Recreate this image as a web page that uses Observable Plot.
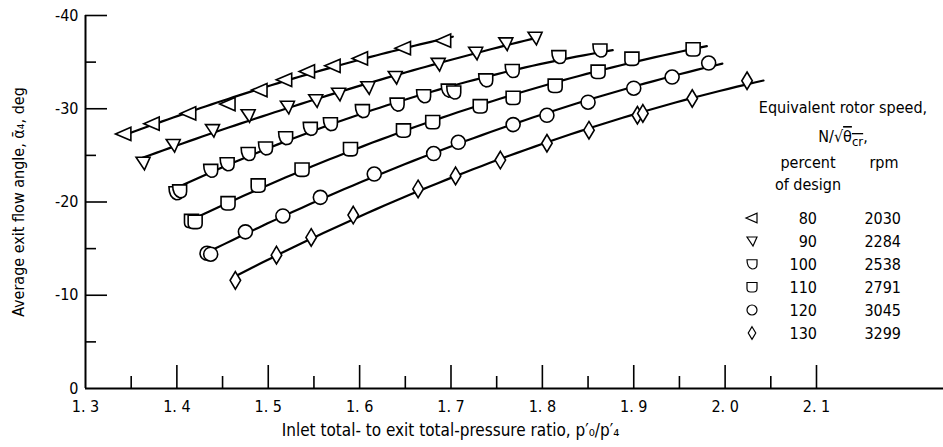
<!DOCTYPE html>
<html>
<head>
<meta charset="utf-8">
<script src="https://cdn.jsdelivr.net/npm/d3@7"></script>
<script src="https://cdn.jsdelivr.net/npm/@observablehq/plot@0.6"></script>
<style>
  body { margin: 0; background: #fff; }
  #chart { width: 943px; height: 447px; }
  svg { font-family: "Liberation Sans Narrow", "DejaVu Sans Condensed", sans-serif; }
</style>
</head>
<body>
<div id="chart"></div>
<script>
// Equivalent rotor speed, percent of design and rpm
const speedPercent = [80, 90, 100, 110, 120, 130];
const speedRpm = [2030, 2284, 2538, 2791, 3045, 3299];

// Inlet-to-exit total-pressure ratio and average exit flow angle (deg) per speed line
const ratio80 = [1.342, 1.373, 1.413, 1.456, 1.491, 1.518, 1.543, 1.571, 1.601, 1.648, 1.692];
const angle80 = [-27.3, -28.4, -29.5, -30.5, -32.0, -33.1, -34.0, -34.6, -35.4, -36.5, -37.3];

const ratio90 = [1.363, 1.396, 1.439, 1.478, 1.521, 1.552, 1.577, 1.609, 1.639, 1.686, 1.727, 1.760, 1.792];
const angle90 = [-24.2, -26.1, -27.7, -29.3, -30.2, -30.9, -31.6, -32.3, -33.4, -34.8, -36.0, -37.0, -37.6];

const ratio100 = [1.399, 1.403, 1.437, 1.455, 1.478, 1.497, 1.519, 1.546, 1.568, 1.603, 1.641, 1.670, 1.697, 1.703, 1.738, 1.767, 1.818, 1.863];
const angle100 = [-21.0, -21.2, -23.4, -24.1, -25.2, -25.8, -26.9, -27.9, -28.4, -29.8, -30.5, -31.4, -32.0, -31.8, -33.1, -34.1, -35.6, -36.3];

const ratio110 = [1.416, 1.420, 1.456, 1.489, 1.537, 1.590, 1.648, 1.680, 1.732, 1.768, 1.814, 1.861, 1.898, 1.965];
const angle110 = [-18.0, -17.9, -19.9, -21.8, -23.5, -25.7, -27.7, -28.6, -30.3, -31.2, -32.5, -34.0, -35.4, -36.4];

const ratio120 = [1.433, 1.437, 1.475, 1.516, 1.557, 1.616, 1.681, 1.708, 1.768, 1.805, 1.850, 1.900, 1.942, 1.982];
const angle120 = [-14.5, -14.4, -16.8, -18.5, -20.5, -23.0, -25.2, -26.4, -28.3, -29.3, -30.7, -32.2, -33.4, -34.9];

const ratio130 = [1.464, 1.509, 1.547, 1.593, 1.664, 1.705, 1.754, 1.805, 1.851, 1.904, 1.910, 1.964, 2.024];
const angle130 = [-11.6, -14.3, -16.2, -18.6, -21.4, -22.8, -24.5, -26.3, -27.7, -29.3, -29.5, -31.1, -33.0];

// Pressure ratio at which each faired curve ends
const curveEnd = [1.702, 1.795, 1.877, 1.980, 1.997, 2.042];

// Axis ticks
const xMajorTicks = [1.4, 1.5, 1.6, 1.7, 1.8, 1.9, 2.0, 2.1];
const xMinorTicks = [1.35, 1.45, 1.55, 1.65, 1.75, 1.85, 1.95, 2.05];
const xTickLabels = ["1. 3", "1. 4", "1. 5", "1. 6", "1. 7", "1. 8", "1. 9", "2. 0", "2. 1"];
const xLabelTicks = [1.3, 1.4, 1.5, 1.6, 1.7, 1.8, 1.9, 2.0, 2.1];
const yMajorTicks = [-40, -30, -20, -10];
const yMinorTicks = [-35, -25, -15, -5];
const yLabelTicks = [0, -10, -20, -30, -40];
const yTickLabels = ["0", "-10", "-20", "-30", "-40"];

const ratios = [ratio80, ratio90, ratio100, ratio110, ratio120, ratio130];
const angles = [angle80, angle90, angle100, angle110, angle120, angle130];

// Symbols for each speed line
function shape(drawFn) {
  return { draw(ctx, size) { drawFn(ctx, Math.sqrt(size / Math.PI)); } };
}
const symbols = [
  shape((c, r) => { c.moveTo(-1.2 * r, 0); c.lineTo(r, -0.95 * r); c.lineTo(r, 0.95 * r); c.closePath(); }),
  shape((c, r) => { c.moveTo(-r, -0.8 * r); c.lineTo(r, -0.8 * r); c.lineTo(0.2 * r, r); c.closePath(); }),
  shape((c, r) => {
    c.moveTo(-r, -0.85 * r); c.lineTo(r, -0.85 * r); c.lineTo(r, 0.1 * r);
    c.quadraticCurveTo(r, r, 0, r); c.quadraticCurveTo(-r, 0.7 * r, -r, -0.85 * r); c.closePath();
  }),
  shape((c, r) => {
    c.moveTo(-r, -0.9 * r); c.lineTo(r, -0.9 * r); c.lineTo(r, 0.3 * r);
    c.quadraticCurveTo(r, r, 0.3 * r, r); c.lineTo(-0.3 * r, r);
    c.quadraticCurveTo(-r, r, -r, 0.3 * r); c.closePath();
  }),
  shape((c, r) => { c.moveTo(r, 0); c.arc(0, 0, r, 0, 2 * Math.PI); c.closePath(); }),
  shape((c, r) => { c.moveTo(0, -1.25 * r); c.lineTo(0.75 * r, 0); c.lineTo(0, 1.25 * r); c.lineTo(-0.75 * r, 0); c.closePath(); })
];

// Least-squares quadratic fairing through each speed line
function quadFit(xs, ys) {
  const m = d3.mean(xs);
  const S = [0, 0, 0, 0, 0], T = [0, 0, 0];
  xs.forEach((x0, i) => {
    const x = x0 - m;
    for (let k = 0; k < 5; k++) S[k] += x ** k;
    for (let k = 0; k < 3; k++) T[k] += ys[i] * x ** k;
  });
  const A = [[S[0], S[1], S[2], T[0]], [S[1], S[2], S[3], T[1]], [S[2], S[3], S[4], T[2]]];
  for (let i = 0; i < 3; i++) {
    for (let j = i + 1; j < 3; j++) {
      const f = A[j][i] / A[i][i];
      for (let k = i; k < 4; k++) A[j][k] -= f * A[i][k];
    }
  }
  const c = [0, 0, 0];
  for (let i = 2; i >= 0; i--) {
    let s = A[i][3];
    for (let k = i + 1; k < 3; k++) s -= A[i][k] * c[k];
    c[i] = s / A[i][i];
  }
  return x => c[0] + c[1] * (x - m) + c[2] * (x - m) ** 2;
}

const curves = speedPercent.flatMap((s, i) => {
  const f = quadFit(ratios[i], angles[i]);
  const x0 = d3.min(ratios[i]), x1 = curveEnd[i];
  return d3.range(61).map(k => {
    const x = x0 + (x1 - x0) * k / 60;
    return { speed: s, ratio: x, angle: f(x) };
  });
});

const font = '"Liberation Sans Narrow", "DejaVu Sans Condensed", sans-serif';

const plot = Plot.plot({
  width: 943,
  height: 447,
  marginLeft: 85,
  marginRight: 0,
  marginTop: 15,
  marginBottom: 59,
  x: { domain: [1.3, 2.239] },
  y: { domain: [0, -40] },
  style: { fontFamily: font, fontSize: "16px", color: "#000", background: "#fff" },
  marks: [
    Plot.axisX({ ticks: xMajorTicks, tickSize: -23, tickFormat: () => "", label: null, strokeWidth: 1.6 }),
    Plot.axisX({ ticks: xMinorTicks, tickSize: -12, tickFormat: () => "", label: null, strokeWidth: 1.6 }),
    Plot.axisX({ ticks: xLabelTicks, tickSize: 0, tickPadding: 12, label: null, fontSize: 16,
      tickFormat: d => xTickLabels[xLabelTicks.indexOf(d)] }),
    Plot.axisY({ ticks: yMajorTicks, tickSize: -22, tickFormat: () => "", label: null, strokeWidth: 1.6 }),
    Plot.axisY({ ticks: yMinorTicks, tickSize: -11, tickFormat: () => "", label: null, strokeWidth: 1.6 }),
    Plot.axisY({ ticks: yLabelTicks, tickSize: 0, tickPadding: 7, label: null, fontSize: 16,
      tickFormat: d => yTickLabels[yLabelTicks.indexOf(d)] }),
    Plot.ruleY([0], { x1: 1.3, x2: 2.239, stroke: "#000", strokeWidth: 2 }),
    Plot.ruleX([1.3], { y1: 0, y2: -40, stroke: "#000", strokeWidth: 2 }),
    Plot.line(curves, { x: "ratio", y: "angle", z: "speed", stroke: "#000", strokeWidth: 2.2 }),
    ...speedPercent.map((s, i) =>
      Plot.dot(ratios[i].map((r, k) => ({ ratio: r, angle: angles[i][k] })), {
        x: "ratio", y: "angle", symbol: symbols[i], r: 7,
        fill: "#fff", stroke: "#000", strokeWidth: 1.6
      })
    ),
    Plot.text(["Average exit flow angle, \u1FB1\u2084, deg"], {
      frameAnchor: "left", textAnchor: "middle", lineAnchor: "middle",
      dx: -67, rotate: -90, fontSize: 16, fill: "#000"
    }),
    Plot.text(["Inlet total- to exit total-pressure ratio, p\u2032\u2080/p\u2032\u2084"], {
      frameAnchor: "bottom", textAnchor: "middle", lineAnchor: "middle",
      dx: -64, dy: 42, fontSize: 17, fill: "#000"
    })
  ]
});

document.getElementById("chart").appendChild(plot);

// Legend: equivalent rotor speed
const svg = d3.select(plot);
const lg = svg.append("g").attr("font-family", font).attr("fill", "#000");
lg.append("text").attr("x", 843).attr("y", 113).attr("text-anchor", "middle")
  .attr("font-size", 16).text("Equivalent rotor speed,");
const nt = lg.append("text").attr("x", 843).attr("y", 142).attr("text-anchor", "middle").attr("font-size", 16);
nt.append("tspan").text("N/\u221A");
nt.append("tspan").attr("text-decoration", "overline").text("\u03B8");
nt.append("tspan").attr("font-size", 13).attr("dy", 4).attr("text-decoration", "overline").text("cr");
nt.append("tspan").attr("dy", -4).text(",");
lg.append("text").attr("x", 808).attr("y", 168).attr("text-anchor", "middle").attr("font-size", 16).text("percent");
lg.append("text").attr("x", 884).attr("y", 168).attr("text-anchor", "middle").attr("font-size", 16).text("rpm");
lg.append("text").attr("x", 808).attr("y", 190).attr("text-anchor", "middle").attr("font-size", 16).text("of design");

speedPercent.forEach((s, i) => {
  const y = 218 + i * 23;
  lg.append("path")
    .attr("transform", `translate(752,${y})`)
    .attr("d", d3.symbol().type(symbols[i]).size(Math.PI * 25)())
    .attr("fill", "#fff").attr("stroke", "#000").attr("stroke-width", 1.2);
  lg.append("text").attr("x", 817).attr("y", y + 6).attr("text-anchor", "end").attr("font-size", 16).text(s);
  lg.append("text").attr("x", 901).attr("y", y + 6).attr("text-anchor", "end").attr("font-size", 16).text(speedRpm[i]);
});
</script>
</body>
</html>
